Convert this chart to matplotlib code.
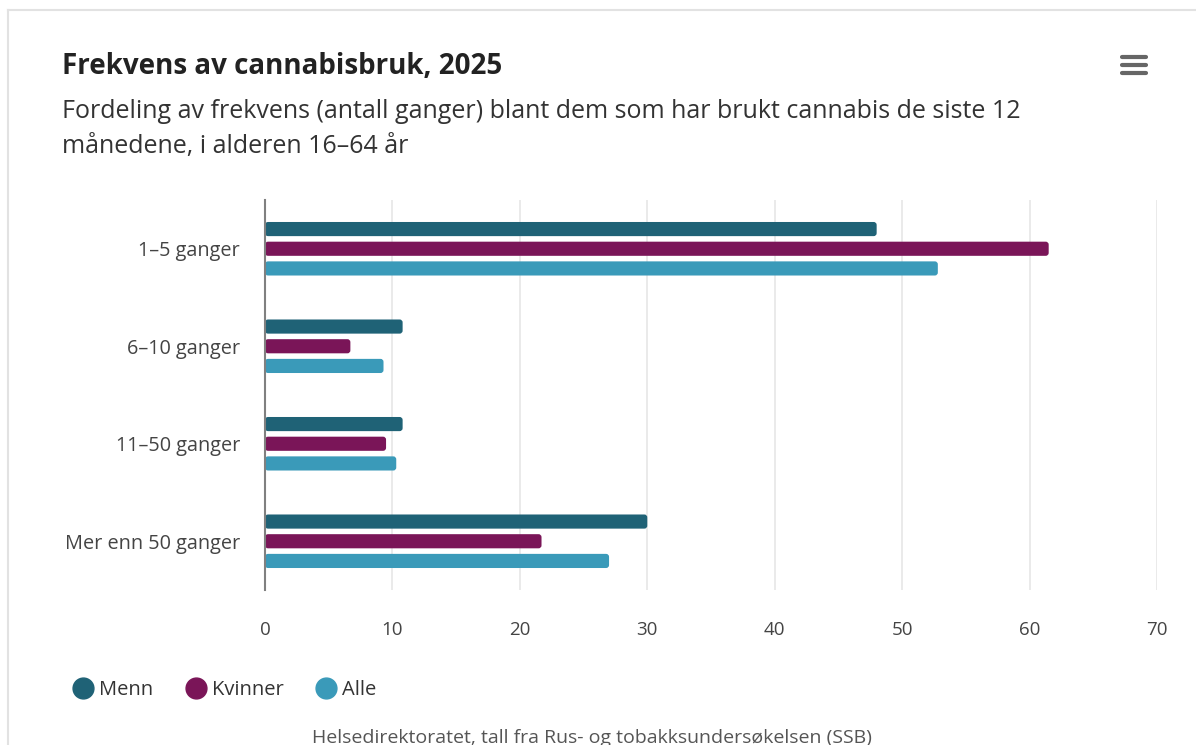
import matplotlib
matplotlib.use("Agg")
import matplotlib.pyplot as plt
from matplotlib.patches import FancyBboxPatch
from matplotlib.lines import Line2D
import numpy as np

plt.rcParams['font.family'] = ['Open Sans', 'DejaVu Sans']

# data: prosent per frekvensgruppe
kategorier = ['1–5 ganger', '6–10 ganger', '11–50 ganger', 'Mer enn 50 ganger']
serier = ['Menn', 'Kvinner', 'Alle']
menn = [48.0, 10.8, 10.8, 30.0]
kvinner = [61.5, 6.7, 9.5, 21.7]
alle = [52.8, 9.3, 10.3, 27.0]
farger = ['#1f6276', '#7a1558', '#3a9ab9']
x_ticks = [0, 10, 20, 30, 40, 50, 60, 70]

W, H = 1196, 745
fig = plt.figure(figsize=(W / 100, H / 100), dpi=100)

# plott-område i piksler
x0, x1, y0, y1 = 265, 1157, 200, 590
ax = fig.add_axes([x0 / W, 1 - y1 / H, (x1 - x0) / W, (y1 - y0) / H])

y = np.arange(len(kategorier))
hoyde = 0.145
steg = 0.202
px_x = (x1 - x0) / 70.0
px_y = (y1 - y0) / 4.0
for i, (verdier, farge) in enumerate(zip([menn, kvinner, alle], farger)):
    bars = ax.barh(y + (i - 1) * steg, verdier, height=hoyde, color=farge)
    # avrundede hjørner
    for b in bars:
        b.set_visible(False)
        r = 3.0 / px_x
        p = FancyBboxPatch((b.get_x(), b.get_y()), b.get_width(), b.get_height(),
                           boxstyle=f"round,pad=0,rounding_size={r}",
                           mutation_aspect=px_x / px_y,
                           facecolor=farge, edgecolor='none', zorder=3)
        ax.add_patch(p)

ax.set_xlim(0, 70)
ax.set_ylim(3.5, -0.5)
ax.set_xticks(x_ticks)
ax.set_yticks(y)
ax.set_yticklabels(kategorier)
ax.grid(axis='x', color='#e6e6e6', linewidth=1.2, zorder=0)
ax.set_axisbelow(True)
for s in ['top', 'right', 'bottom']:
    ax.spines[s].set_visible(False)
ax.spines['left'].set_color('#808080')
ax.spines['left'].set_linewidth(1.5)
ax.spines['left'].set_zorder(4)
ax.tick_params(axis='x', length=0, pad=22, labelsize=13.5, labelcolor='#444444')
ax.tick_params(axis='y', length=0, pad=18, labelsize=14.3, labelcolor='#444444')

# kortramme
fig.add_artist(Line2D([8 / W, 8 / W], [0, 1 - 10 / H], color='#e2e2e2', lw=1.5))
fig.add_artist(Line2D([8 / W, 1], [1 - 10 / H, 1 - 10 / H], color='#e2e2e2', lw=1.5))

# meny-ikon
for yy in [57, 65, 73]:
    fig.add_artist(Line2D([1122 / W, 1146 / W], [1 - yy / H, 1 - yy / H],
                          color='#666666', lw=3, solid_capstyle='round'))

fig.text(62 / W, 1 - 67 / H, 'Frekvens av cannabisbruk, 2025', fontsize=20,
         fontweight='bold', color='#222222', va='center')
fig.text(62 / W, 1 - 112 / H,
         'Fordeling av frekvens (antall ganger) blant dem som har brukt cannabis de siste 12',
         fontsize=18, color='#333333', va='center')
fig.text(62 / W, 1 - 146 / H, 'månedene, i alderen 16–64 år',
         fontsize=18, color='#333333', va='center')

handles = [Line2D([], [], marker='o', linestyle='none', markersize=15,
                  markerfacecolor=f, markeredgecolor=f) for f in farger]
fig.legend(handles, serier, loc='center left', bbox_to_anchor=(69 / W, 1 - 690 / H),
           ncol=3, frameon=False, fontsize=14.5, handletextpad=0.1, handlelength=1.4,
           columnspacing=1.4, labelcolor='#333333', borderaxespad=0, borderpad=0)

fig.text(592 / W, 1 - 738 / H, 'Helsedirektoratet, tall fra Rus- og tobakksundersøkelsen (SSB)',
         fontsize=14, color='#555555', ha='center', va='center')

fig.savefig('out.png', dpi=100)
